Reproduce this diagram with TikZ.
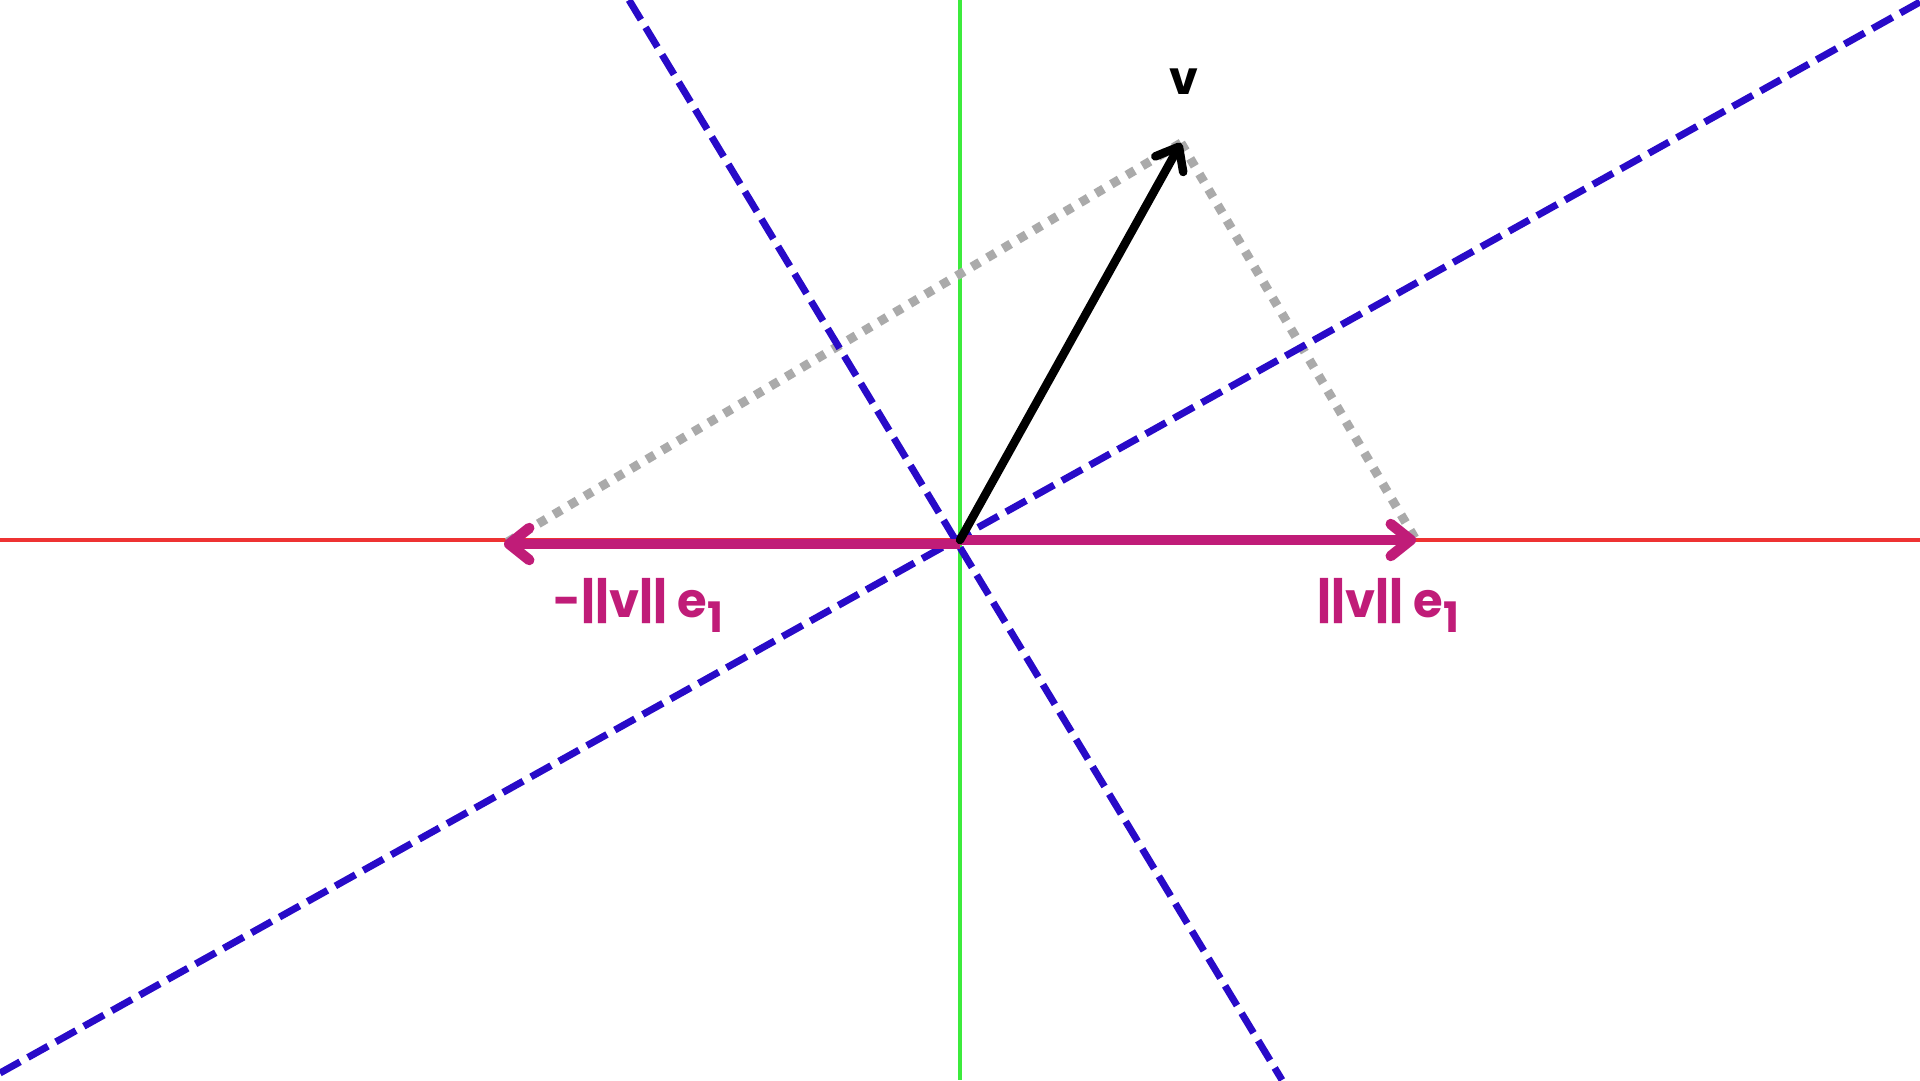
\documentclass[tikz,border=0pt]{standalone}
\usepackage{fontspec}
\setmainfont{Poppins}
\usetikzlibrary{arrows.meta}
\definecolor{pinkc}{RGB}{192,28,120}
\definecolor{bluec}{RGB}{40,10,200}
\definecolor{greenc}{RGB}{60,235,60}
\definecolor{redc}{RGB}{238,50,50}
\definecolor{grayc}{RGB}{170,170,170}
\tikzset{
  axisline/.style={line width=3.5pt},
  mirror/.style={bluec, line width=7pt, dash pattern=on 23pt off 9pt},
  proj/.style={grayc, line width=9pt, dash pattern=on 9pt off 9pt},
  vecarrow/.style={line width=8.5pt, line cap=round, -{Straight Barb[length=20pt,width=32pt,round]}},
  pinkarrow/.style={pinkc, line width=10.5pt, -{Straight Barb[length=20pt,width=32pt,round]}},
  pinklabel/.style={pinkc, font=\fontsize{48}{48}\selectfont\bfseries},
}
\begin{document}
\begin{tikzpicture}[x=1pt,y=-1pt]
\useasboundingbox (0,0) rectangle (1920,1080);
\fill[white] (0,0) rectangle (1920,1080);
\clip (0,0) rectangle (1920,1080);
\coordinate (O) at (960,540);
\coordinate (OL) at (960,544);
\coordinate (V) at (1181,143);
\coordinate (P) at (1416,540);
\coordinate (N) at (504,544);
\coordinate (XL) at (0,540);
\coordinate (XR) at (1920,540);
\coordinate (YT) at (960,0);
\coordinate (YB) at (960,1080);
\coordinate (A1) at (629,0);
\coordinate (A2) at (1282,1080);
\coordinate (B1) at (0,1073);
\coordinate (B2) at (1920,2);
% axes
\draw[axisline, redc] (XL) -- (XR);
\draw[axisline, greenc] (YT) -- (YB);
% projections
\draw[proj] (V) -- (P);
\draw[proj] (V) -- (N);
% mirror lines
\draw[mirror] (A1) -- (A2);
\draw[mirror] (B1) -- (B2);
% vectors
\draw[pinkarrow] (O) -- (P);
\draw[pinkarrow] (OL) -- (N);
\draw[vecarrow] (O) -- (V);
% labels
\node[font=\fontsize{46}{46}\selectfont\bfseries] (vlab) at (1184,82) {v};
\node[pinklabel, anchor=base west] (nlab) at (550,617) {-||v|| e\raisebox{-15pt}{\fontsize{42}{42}\selectfont 1}};
\node[pinklabel, anchor=base west] (plab) at (1314,617) {||v|| e\raisebox{-15pt}{\fontsize{42}{42}\selectfont 1}};
\end{tikzpicture}
\end{document}
